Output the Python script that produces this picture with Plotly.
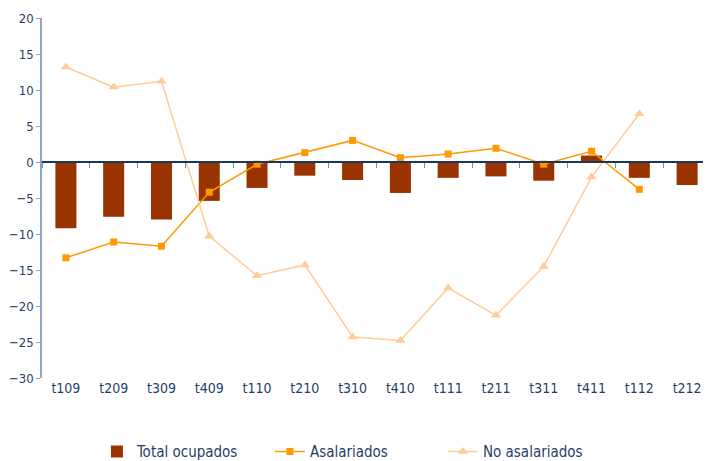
import plotly.graph_objects as go

trimestres = ["t109", "t209", "t309", "t409", "t110", "t210", "t310", "t410",
              "t111", "t211", "t311", "t411", "t112", "t212"]
total_ocupados = [-9.2, -7.6, -8.0, -5.4, -3.6, -1.9, -2.5, -4.3, -2.2, -2.0, -2.6, 0.9, -2.2, -3.2]
asalariados = [-13.3, -11.1, -11.7, -4.2, -0.3, 1.3, 3.0, 0.6, 1.1, 1.9, -0.3, 1.5, -3.8, None]
no_asalariados = [13.2, 10.4, 11.2, -10.3, -15.8, -14.3, -24.3, -24.8, -17.5, -21.3, -14.5, -2.1, 6.7, None]

navy = "#1F3F68"
font_family = "DejaVu Sans Condensed, Liberation Sans Narrow, Arial Narrow, Arial"

fig = go.Figure()
fig.add_trace(go.Bar(x=trimestres, y=total_ocupados, name="Total ocupados",
                     marker=dict(color="#993300", line=dict(width=0))))
fig.add_trace(go.Scatter(x=trimestres, y=asalariados, name="Asalariados", mode="lines+markers",
                         line=dict(color="#FF9900", width=1.5),
                         marker=dict(symbol="square", size=7, color="#FF9900")))
fig.add_trace(go.Scatter(x=trimestres, y=no_asalariados, name="No asalariados", mode="lines+markers",
                         line=dict(color="#FFCC99", width=1.5),
                         marker=dict(symbol="triangle-up", size=9, color="#FFCC99")))
# invisible trace so the zero-line axis gets its category ticks
fig.add_trace(go.Scatter(x=trimestres, y=[0] * len(trimestres), xaxis="x2", mode="markers",
                         marker=dict(opacity=0), showlegend=False, hoverinfo="skip"))

ymin, ymax = -30, 20
# page body has an 8px margin, so the figure is 8px smaller than the window
fig.update_layout(
    width=703, height=453,
    margin=dict(l=34, r=0, t=10, b=83, autoexpand=False),
    plot_bgcolor="white", paper_bgcolor="white",
    font=dict(family=font_family, color=navy, size=14),
    bargap=0.56,
    xaxis=dict(type="category", range=[-0.5, 13.5], showline=False, ticks="",
               showgrid=False, zeroline=False, tickfont=dict(size=14)),
    xaxis2=dict(type="category", range=[-0.5, 13.5], overlaying="x", anchor="free",
                position=(0 - ymin) / (ymax - ymin), showticklabels=False,
                showline=True, linecolor="#17375E", linewidth=1.5,
                ticks="outside", ticklen=5, tickcolor="#6F8FB5", tickson="boundaries",
                showgrid=False, zeroline=False),
    yaxis=dict(range=[ymin, ymax], dtick=5, showgrid=False, zeroline=False,
               showline=True, linecolor="#8EA6C6", linewidth=1.5,
               ticks="outside", ticklen=4, tickcolor="#8EA6C6",
               tickfont=dict(size=13)),
    legend=dict(orientation="h", x=0.47, xanchor="center", y=-0.205, yanchor="middle",
                font=dict(size=15), entrywidth=128, traceorder="normal"),
)

fig.write_html("out.html")
